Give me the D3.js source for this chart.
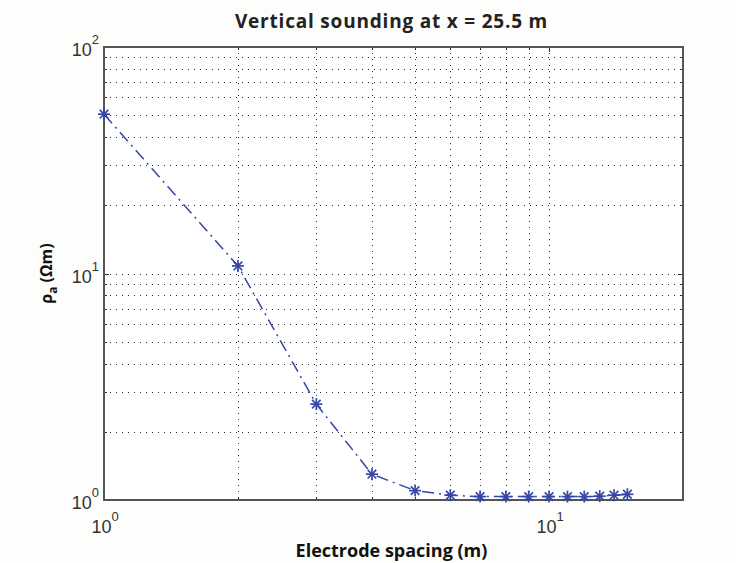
<!DOCTYPE html>
<html>
<head>
<meta charset="utf-8">
<script src="https://cdn.jsdelivr.net/npm/d3@7"></script>
<style>
  html, body { margin: 0; padding: 0; background: #fdfdfb; }
  svg { display: block; }
</style>
</head>
<body>
<script>
// Apparent resistivity sounding data
const spacing = [1, 2, 3, 4, 5, 6, 7, 8, 9, 10, 11, 12, 13, 14, 15];
const rhoA = [50.5, 10.8, 2.65, 1.30, 1.10, 1.05, 1.035, 1.035, 1.035, 1.035, 1.035, 1.035, 1.04, 1.05, 1.06];
const xTickExps = [0, 1];
const yTickExps = [0, 1, 2];
const titleText = "Vertical sounding at x = 25.5 m";
const xLabelText = "Electrode spacing (m)";

const W = 736, H = 563;
const m = { left: 104, right: 53, top: 47, bottom: 63 };
const iw = W - m.left - m.right, ih = H - m.top - m.bottom;

const svg = d3.select("body").append("svg").attr("width", W).attr("height", H);
svg.append("rect").attr("width", W).attr("height", H).attr("fill", "#fdfdfb");

const x = d3.scaleLog().domain([1, 20]).range([0, iw]);
const y = d3.scaleLog().domain([1, 100]).range([ih, 0]);

const g = svg.append("g").attr("transform", `translate(${m.left},${m.top})`);
g.append("rect").attr("width", iw).attr("height", ih).attr("fill", "#ffffff");

// log grid positions: every integer multiple within each decade
const xGrid = [2, 3, 4, 5, 6, 7, 8, 9, 10];
const yGrid = d3.range(2, 10).concat([10]).concat(d3.range(20, 100, 10));

const grid = g.append("g").attr("stroke", "#2a2a2a").attr("stroke-width", 1)
  .attr("stroke-dasharray", "1,5").attr("fill", "none");
grid.selectAll("line.v").data(xGrid).join("line").attr("class", "v")
  .attr("x1", d => Math.round(x(d)) + 0.5).attr("x2", d => Math.round(x(d)) + 0.5)
  .attr("y1", 0).attr("y2", ih);
grid.selectAll("line.h").data(yGrid).join("line").attr("class", "h")
  .attr("y1", d => Math.round(y(d)) + 0.5).attr("y2", d => Math.round(y(d)) + 0.5)
  .attr("x1", 0).attr("x2", iw);

// inward ticks on all four sides
const tickC = "#333";
const xTickVals = xGrid.concat([1]);
const yTickVals = yGrid.concat([1]);
const ticks = g.append("g").attr("stroke", tickC).attr("stroke-width", 1);
function tl(d, major) { return major ? 5 : 3; }
ticks.selectAll("line.xb").data(xTickVals).join("line")
  .attr("x1", d => Math.round(x(d)) + 0.5).attr("x2", d => Math.round(x(d)) + 0.5)
  .attr("y1", ih).attr("y2", d => ih - tl(d, d === 1 || d === 10));
ticks.selectAll("line.xt").data(xTickVals).join("line")
  .attr("x1", d => Math.round(x(d)) + 0.5).attr("x2", d => Math.round(x(d)) + 0.5)
  .attr("y1", 0).attr("y2", d => tl(d, d === 1 || d === 10));
ticks.selectAll("line.yl").data(yTickVals).join("line")
  .attr("y1", d => Math.round(y(d)) + 0.5).attr("y2", d => Math.round(y(d)) + 0.5)
  .attr("x1", 0).attr("x2", d => tl(d, d === 1 || d === 10));
ticks.selectAll("line.yr").data(yTickVals).join("line")
  .attr("y1", d => Math.round(y(d)) + 0.5).attr("y2", d => Math.round(y(d)) + 0.5)
  .attr("x1", iw).attr("x2", d => iw - tl(d, d === 1 || d === 10));

// frame
g.append("rect").attr("width", iw).attr("height", ih)
  .attr("fill", "none").attr("stroke", "#555").attr("stroke-width", 2);

// data line and asterisk markers
const blue = "#3646a6";
const pts = spacing.map((s, i) => [s, rhoA[i]]);
g.append("path").datum(pts)
  .attr("d", d3.line().x(d => x(d[0])).y(d => y(d[1])))
  .attr("fill", "none").attr("stroke", blue).attr("stroke-width", 1.5)
  .attr("stroke-dasharray", "12,5,2,5");

const mk = g.append("g").attr("stroke", blue).attr("stroke-width", 1.7);
const r1 = 6, r2 = 4.3;
pts.forEach(p => {
  const cx = x(p[0]), cy = y(p[1]);
  const s = mk.append("g").attr("transform", `translate(${cx},${cy})`);
  s.append("line").attr("x1", -r1).attr("x2", r1).attr("y1", 0).attr("y2", 0);
  s.append("line").attr("x1", 0).attr("x2", 0).attr("y1", -r1).attr("y2", r1);
  s.append("line").attr("x1", -r2).attr("x2", r2).attr("y1", -r2).attr("y2", r2);
  s.append("line").attr("x1", -r2).attr("x2", r2).attr("y1", r2).attr("y2", -r2);
});

// tick labels as 10^n
const tickFont = "Liberation Sans, Arial, sans-serif";
function powLabel(sel, n, px, py, anchor) {
  const t = sel.append("text").attr("x", px).attr("y", py)
    .attr("font-family", tickFont).attr("font-size", 18).attr("fill", "#333")
    .attr("text-anchor", anchor);
  t.append("tspan").text("10");
  t.append("tspan").attr("font-size", 13).attr("dy", -12).text(String(n));
}
xTickExps.forEach(n => powLabel(g, n, x(Math.pow(10, n)) + 1, ih + 33, "middle"));
yTickExps.forEach(n => powLabel(g, n, -5, y(Math.pow(10, n)) + 9, "end"));

// title and axis labels
const labFont = "Open Sans, DejaVu Sans, sans-serif";
svg.append("text").attr("x", m.left + iw / 2 - 2).attr("y", 28)
  .attr("text-anchor", "middle").attr("font-family", labFont)
  .attr("font-weight", "bold").attr("font-size", 19).attr("fill", "#222")
  .attr("letter-spacing", 0.8)
  .text(titleText);
svg.append("text").attr("x", m.left + iw / 2 - 2).attr("y", 557)
  .attr("text-anchor", "middle").attr("font-family", labFont)
  .attr("font-weight", "bold").attr("font-size", 18).attr("fill", "#111")
  .text(xLabelText);

const yl = svg.append("text")
  .attr("transform", `translate(52,${m.top + ih / 2}) rotate(-90)`)
  .attr("text-anchor", "middle").attr("font-family", labFont)
  .attr("font-weight", "bold").attr("font-size", 16).attr("fill", "#111");
yl.append("tspan").text("ρ");
yl.append("tspan").attr("font-size", 12).attr("dy", 5).text("a");
yl.append("tspan").attr("dy", -5).text(" (Ωm)");
</script>
</body>
</html>
